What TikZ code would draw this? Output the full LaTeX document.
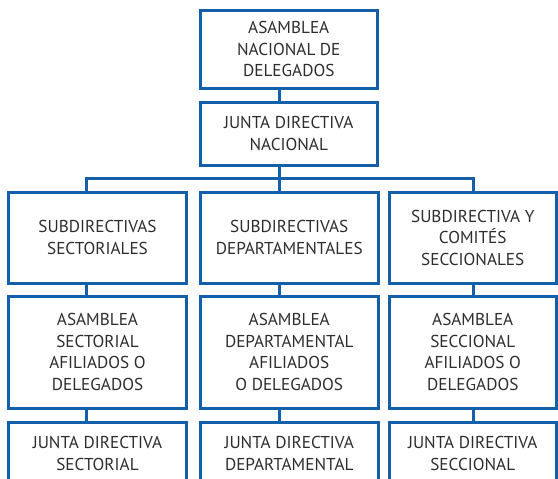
\documentclass[tikz,border=0pt]{standalone}
\usepackage{fontspec}
\setmainfont{PT Sans}
\definecolor{azul}{RGB}{20,95,170}
\definecolor{texto}{RGB}{45,45,45}

\begin{document}
\begin{tikzpicture}[x=1pt,y=-1pt,
  caja/.style={draw=azul,line width=3pt,inner sep=0pt,outer sep=0pt,align=center,text=texto,font=\fontsize{17.2}{21.5}\selectfont},
  enlace/.style={draw=azul,line width=3pt,line join=miter}]
\useasboundingbox (0,0) rectangle (558,479);
\clip (0,0) rectangle (558,479);
% niveles nacionales
\node[caja,minimum width=176.5pt,minimum height=78pt] (andel) at (288.75,49) {ASAMBLEA\\NACIONAL DE\\DELEGADOS};
\node[caja,minimum width=176.5pt,minimum height=63pt] (jdn) at (288.75,133.5) {JUNTA DIRECTIVA\\NACIONAL};
% subdirectivas
\node[caja,minimum width=178pt,minimum height=91pt] (sub1) at (97.5,237.5) {SUBDIRECTIVAS\\SECTORIALES};
\node[caja,minimum width=177.5pt,minimum height=91pt] (sub2) at (289.25,237.5) {SUBDIRECTIVAS\\DEPARTAMENTALES};
\node[caja,minimum width=167.5pt,minimum height=91pt] (sub3) at (472.75,237.5) {SUBDIRECTIVA Y\\COMITÉS\\SECCIONALES};
% asambleas
\node[caja,minimum width=178pt,minimum height=112pt] (asa1) at (97.5,352) {ASAMBLEA\\SECTORIAL\\AFILIADOS O\\DELEGADOS};
\node[caja,minimum width=177.5pt,minimum height=112pt] (asa2) at (289.25,352) {ASAMBLEA\\DEPARTAMENTAL\\AFILIADOS\\O DELEGADOS};
\node[caja,minimum width=167.5pt,minimum height=112pt] (asa3) at (472.75,352) {ASAMBLEA\\SECCIONAL\\AFILIADOS O\\DELEGADOS};
% juntas
\node[caja,minimum width=178pt,minimum height=63pt] (jun1) at (97.5,453.5) {JUNTA DIRECTIVA\\SECTORIAL};
\node[caja,minimum width=177.5pt,minimum height=63pt] (jun2) at (289.25,453.5) {JUNTA DIRECTIVA\\DEPARTAMENTAL};
\node[caja,minimum width=167.5pt,minimum height=63pt] (jun3) at (472.75,453.5) {JUNTA DIRECTIVA\\SECCIONAL};
% barra
\coordinate (bus1) at (86,178);
\coordinate (bus2) at (279,178);
\coordinate (bus3) at (473,178);
\draw[enlace] (andel.south -| bus2) -- (jdn.north -| bus2);
\draw[enlace] (jdn.south -| bus2) -- (sub2.north -| bus2);
\draw[enlace] (sub1.north -| bus1) -- (bus1) -- (bus3) -- (sub3.north -| bus3);
\foreach \i in {1,2,3}{
  \draw[enlace] (sub\i.south -| bus\i) -- (asa\i.north -| bus\i);
  \draw[enlace] (asa\i.south -| bus\i) -- (jun\i.north -| bus\i);
}
\end{tikzpicture}
\end{document}
